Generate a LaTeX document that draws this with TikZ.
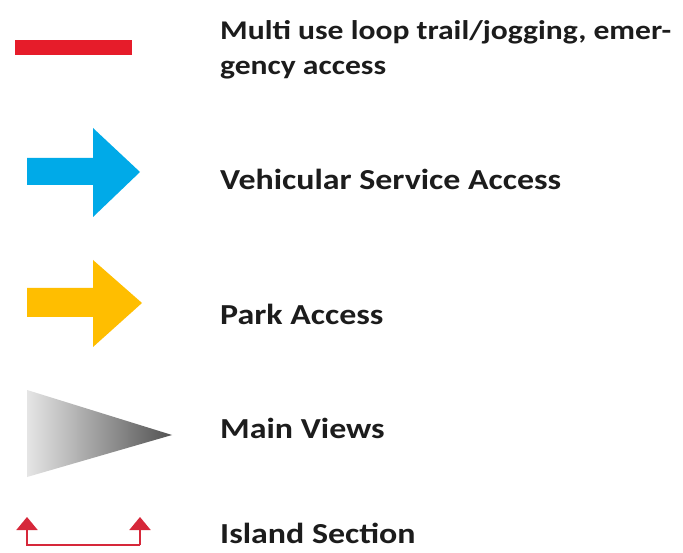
\documentclass[tikz,border=0pt]{standalone}
\usepackage{fontspec}
\setmainfont[FakeStretch=1.17]{Carlito}
\usetikzlibrary{arrows.meta,positioning}
\definecolor{trailred}{RGB}{230,28,42}
\definecolor{secred}{RGB}{214,40,58}
\definecolor{service}{RGB}{0,170,232}
\definecolor{parkgold}{RGB}{255,190,0}
\definecolor{ink}{RGB}{28,28,28}
\tikzset{
  lbl/.style={anchor=base west,inner sep=0pt,text=ink,align=left,
    font=\bfseries\fontsize{29}{35}\selectfont},
  bigarrow/.style={fill=#1,draw=none},
  bigarrow/.default=service,
  sect/.style={draw=secred,line width=1.8pt,-{Triangle[width=21pt,length=13pt]}},
}
\begin{document}
\begin{tikzpicture}[x=1pt,y=-1pt]
  \useasboundingbox[fill=white] (0,0) rectangle (683,553);
  % legend symbols
  \fill[trailred] (15,40) rectangle (132,55);
  \path[bigarrow=service] (27,158) -- (93,158) -- (93,128) -- (140,172) -- (93,217) -- (93,185) -- (27,185) -- cycle;
  \path[bigarrow=parkgold] (27,288) -- (93,288) -- (93,260) -- (142,303) -- (93,347) -- (93,317) -- (27,317) -- cycle;
  \shade[left color=black!10,right color=black!68] (27,390) -- (172,435) -- (27,477) -- cycle;
  \coordinate (sl) at (27,545);
  \coordinate (sr) at (140,545);
  \coordinate (tl) at (27,517);
  \coordinate (tr) at (140,517);
  \draw[sect] (sr) -- (tr);
  \draw[sect] (sr) -- (sl) -- (tl);
  % legend texts
  \node[lbl,font=\bfseries\fontsize{27}{35}\selectfont] (trail) at (220,75) {Multi use loop trail/jogging, emer-\\gency access};
  \foreach \t/\y [count=\i] in {Vehicular Service Access/190,Park Access/325,Main Views/438,Island Section/543}
    \node[lbl] (txt\i) at (220,\y) {\t};
\end{tikzpicture}
\end{document}
